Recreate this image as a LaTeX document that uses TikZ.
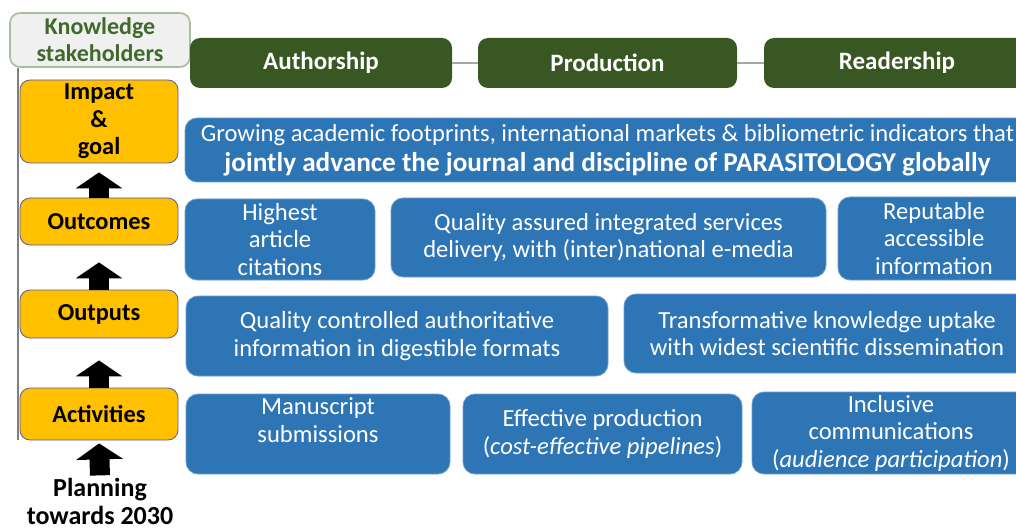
\documentclass[tikz,border=0pt]{standalone}
\usepackage{fontspec}
\setmainfont{Carlito}
\usepackage{xcolor}
\usepackage{tikz}
\usetikzlibrary{arrows.meta}
\definecolor{boxblue}{HTML}{2E75B6}
\definecolor{edgeblue}{HTML}{6A9FD0}
\definecolor{darkgreen}{HTML}{385723}
\definecolor{stakegreen}{HTML}{3F6A2C}
\definecolor{levelyellow}{HTML}{FFC000}
\tikzstyle{stake}=[rectangle,rounded corners=5pt,draw=stakegreen!45,fill=gray!12,thick,text=stakegreen,font=\fontsize{12}{13.5}\selectfont\bfseries,align=center,minimum width=90pt,minimum height=27pt,inner sep=0pt]
\tikzstyle{level}=[rectangle,rounded corners=5pt,draw=gray!70!blue,fill=levelyellow,text=black,font=\fontsize{12.2}{13.75}\selectfont\bfseries,align=center,minimum width=79pt,inner sep=0pt]
\tikzstyle{stage}=[rectangle,rounded corners=5pt,fill=darkgreen,text=white,font=\fontsize{12.5}{15}\selectfont\bfseries,minimum height=25pt,inner sep=0pt]
\tikzstyle{result}=[rectangle,rounded corners=6pt,draw=edgeblue,fill=boxblue,text=white,font=\fontsize{12.3}{13.75}\selectfont,align=center,inner sep=0pt,minimum height=40pt]
\tikzstyle{uparrow}=[-{Triangle[width=23pt,length=8pt]},line width=10pt,black]

\begin{document}
\begin{tikzpicture}[x=0.5pt,y=-0.5pt]
        \clip (0,0) rectangle (1016,529);

        % stakeholders and levels
        \node at (100,40)   [stake] (know) {Knowledge\\stakeholders};
        \node at (99,121.5) [level,minimum height=41.5pt] (imp)  {Impact\\\&\\goal};
        \node at (99,221.5) [level,minimum height=23.5pt] (outc) {Outcomes};
        \node at (99,314)   [level,minimum height=24pt]   (outp) {Outputs};
        \node at (99,414)   [level,minimum height=26pt]   (actv) {Activities};
        \node at (100,501)  [align=center,inner sep=0pt,font=\fontsize{13}{14}\selectfont\bfseries] (plan) {Planning\\towards 2030};

        \coordinate (vbot) at (18,440);
        \draw [gray,thick] (know.south west -| vbot) -- (vbot);

        \draw [uparrow,shorten >=4.5pt]  (outc.north) -- (imp.south);
        \draw [uparrow,shorten >=8.5pt]  (outp.north) -- (outc.south);
        \draw [uparrow,shorten >=11pt]   (actv.north) -- (outp.south);
        \draw [uparrow,shorten >=1.5pt,shorten <=1pt] (plan.north) -- (actv.south);

        % stages
        \node at (321,63)   [stage,minimum width=131pt] (auth) {Authorship};
        \node at (607.5,63) [stage,minimum width=129.5pt] (prod) {Production};
        \node at (897,63)   [stage,minimum width=133pt] (read) {Readership};
        \draw [gray!70,thick] (auth) -- (prod);
        \draw [gray!70,thick] (prod) -- (read);

        % impact
        \node at (607.5,150) [result,minimum width=422.5pt,minimum height=32pt,font=\fontsize{12.3}{15}\selectfont] (goal)
          {Growing academic footprints, international markets \& bibliometric indicators that\\
           {\fontsize{13.6}{15}\selectfont\textbf{jointly advance the journal and discipline of PARASITOLOGY globally}}};

        % outcomes
        \node at (280,239.5)   [result,minimum width=95pt,minimum height=40.5pt] (cite) {Highest\\article\\citations};
        \node at (608.5,237.5) [result,minimum width=217.5pt,minimum height=39.5pt] (qual) {Quality assured integrated services\\delivery, with (inter)national e-media};
        \node at (934,238.5)   [result,minimum width=96pt,minimum height=41.5pt] (repu) {Reputable\\accessible\\information};

        % outputs
        \node at (397,336)   [result,minimum width=211pt] (ctrl)  {Quality controlled authoritative\\information in digestible formats};
        \node at (827,333.5) [result,minimum width=203pt,minimum height=39.5pt] (trans) {Transformative knowledge uptake\\with widest scientific dissemination};

        % activities
        \node at (318,434)   [result,minimum width=132pt] (manu) {Manuscript\\submissions\\\mbox{}};
        \node at (602.5,434) [result,minimum width=139.5pt] (effp) {Effective production\\(\textit{cost-effective pipelines})};
        \node at (891,433)   [result,minimum width=139pt,minimum height=41pt] (incl) {Inclusive\\communications\\(\textit{audience participation})};
      \end{tikzpicture}
\end{document}
